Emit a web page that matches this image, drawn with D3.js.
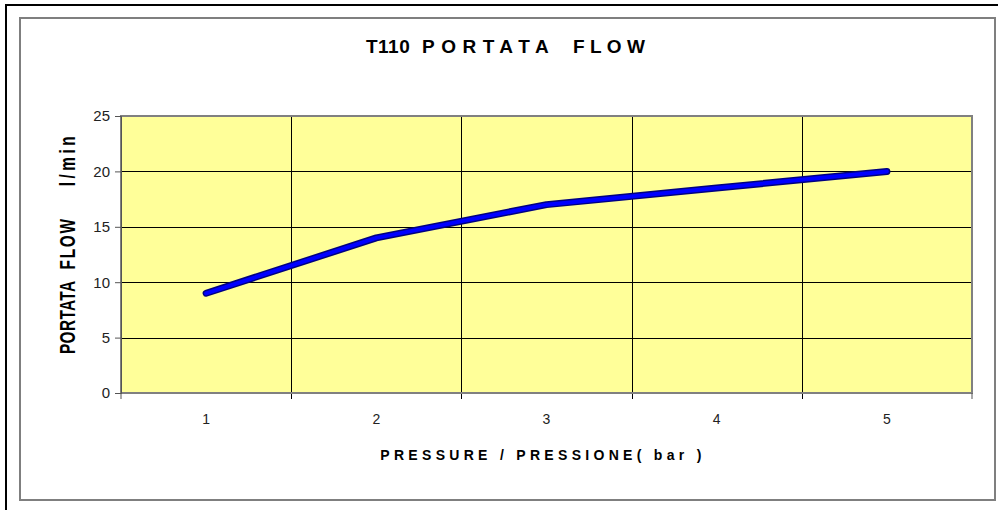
<!DOCTYPE html>
<html>
<head>
<meta charset="utf-8">
<script src="https://cdn.jsdelivr.net/npm/d3@7"></script>
<style>
  body { margin: 0; background: #fff; }
  svg { display: block; font-family: 'Liberation Sans', Arial, sans-serif; }
  text { white-space: pre; }
</style>
</head>
<body>
<div id="chart"></div>
<script>
const pressures = ['1', '2', '3', '4', '5']
const flow = [9, 14, 17, 18.5, 20]
const yTicks = [0, 5, 10, 15, 20, 25]

const W = 998
const H = 510
const margin = { top: 116, right: 26, bottom: 117, left: 121 }
const width = W - margin.left - margin.right
const height = H - margin.top - margin.bottom

const svg = d3.select('#chart').append('svg')
  .attr('width', W)
  .attr('height', H)

// outer frames
svg.append('rect')
  .attr('x', 6).attr('y', 5).attr('width', W + 10).attr('height', H + 10)
  .attr('fill', 'none').attr('stroke', '#000').attr('stroke-width', 2)

svg.append('rect')
  .attr('x', 20).attr('y', 18).attr('width', 975).attr('height', 482)
  .attr('fill', '#fff').attr('stroke', '#7f7f7f').attr('stroke-width', 2)

// title
const title = svg.append('text')
  .attr('y', 53)
  .attr('font-weight', 'bold')
  .attr('font-size', 19)
  .attr('fill', '#000')
title.append('tspan').attr('x', 366).attr('letter-spacing', '0.5').text('T110')
title.append('tspan').attr('x', 422).attr('letter-spacing', '6.5').text('PORTATA')
title.append('tspan').attr('x', 573).attr('letter-spacing', '5.3').text('FLOW')

const g = svg.append('g')
  .attr('transform', `translate(${margin.left}, ${margin.top})`)

const x = d3.scaleBand()
  .domain(pressures)
  .range([0, width])

const y = d3.scaleLinear()
  .domain([0, 25])
  .range([height, 0])

g.append('rect')
  .attr('width', width)
  .attr('height', height)
  .attr('fill', '#ffff99')

// horizontal gridlines
g.selectAll('.hgrid')
  .data(yTicks.filter(d => d > 0 && d < 25))
  .enter().append('line')
  .attr('class', 'hgrid')
  .attr('x1', 0).attr('x2', width)
  .attr('y1', d => Math.round(y(d)) + 0.5)
  .attr('y2', d => Math.round(y(d)) + 0.5)
  .attr('stroke', '#000')
  .attr('stroke-width', 1)

// vertical gridlines between categories
g.selectAll('.vgrid')
  .data(pressures.slice(1))
  .enter().append('line')
  .attr('class', 'vgrid')
  .attr('x1', d => Math.round(x(d)) + 0.5)
  .attr('x2', d => Math.round(x(d)) + 0.5)
  .attr('y1', 0).attr('y2', height + 6)
  .attr('stroke', '#000')
  .attr('stroke-width', 1)

g.append('rect')
  .attr('width', width)
  .attr('height', height)
  .attr('fill', 'none')
  .attr('stroke', '#808080')
  .attr('stroke-width', 2)

// y axis
const yAxis = d3.axisLeft(y).tickValues(yTicks).tickSize(6).tickPadding(5)
const yAxisG = g.append('g').call(yAxis)
  .attr('font-size', 15)
  .attr('font-family', "'Liberation Sans', Arial, sans-serif")
yAxisG.select('.domain').attr('stroke', '#555')
yAxisG.selectAll('line').attr('stroke', '#555')
yAxisG.selectAll('text').attr('fill', '#222')

// x axis
const xAxis = d3.axisBottom(x).tickSize(0).tickPadding(21)
const xAxisG = g.append('g')
  .attr('transform', `translate(0, ${height})`)
  .call(xAxis)
  .attr('font-size', 14)
  .attr('font-family', "'Liberation Sans', Arial, sans-serif")
xAxisG.select('.domain').remove()
xAxisG.selectAll('text').attr('fill', '#222')

g.append('line')
  .attr('x1', 0).attr('x2', 0)
  .attr('y1', height).attr('y2', height + 6)
  .attr('stroke', '#555')
g.append('line')
  .attr('x1', width).attr('x2', width)
  .attr('y1', height).attr('y2', height + 6)
  .attr('stroke', '#555')

// axis titles
svg.append('text')
  .attr('x', 543).attr('y', 460)
  .attr('text-anchor', 'middle')
  .attr('font-weight', 'bold')
  .attr('font-size', 14)
  .attr('letter-spacing', '4.3')
  .attr('fill', '#000')
  .text('PRESSURE / PRESSIONE( bar )')

const yTitle = svg.append('text')
  .attr('transform', 'translate(75, 354) rotate(-90) scale(0.7, 1)')
  .attr('font-weight', 'bold')
  .attr('font-size', 22)
  .attr('fill', '#000')
yTitle.append('tspan').attr('letter-spacing', '0.5').text('PORTATA')
yTitle.append('tspan').attr('dx', 16).attr('letter-spacing', '2.5').text('FLOW')
yTitle.append('tspan').attr('dx', 44).attr('letter-spacing', '5').text('l/min')

// series line
const points = pressures.map((p, i) => ({ p, v: flow[i] }))
const line = d3.line()
  .x(d => x(d.p) + x.bandwidth() / 2)
  .y(d => y(d.v))

g.append('path')
  .datum(points)
  .attr('d', line)
  .attr('fill', 'none')
  .attr('stroke', '#000080')
  .attr('stroke-width', 7)
  .attr('stroke-linecap', 'round')
  .attr('stroke-linejoin', 'round')

g.append('path')
  .datum(points)
  .attr('d', line)
  .attr('fill', 'none')
  .attr('stroke', '#0000ff')
  .attr('stroke-width', 4)
  .attr('stroke-linecap', 'round')
  .attr('stroke-linejoin', 'round')
</script>
</body>
</html>
